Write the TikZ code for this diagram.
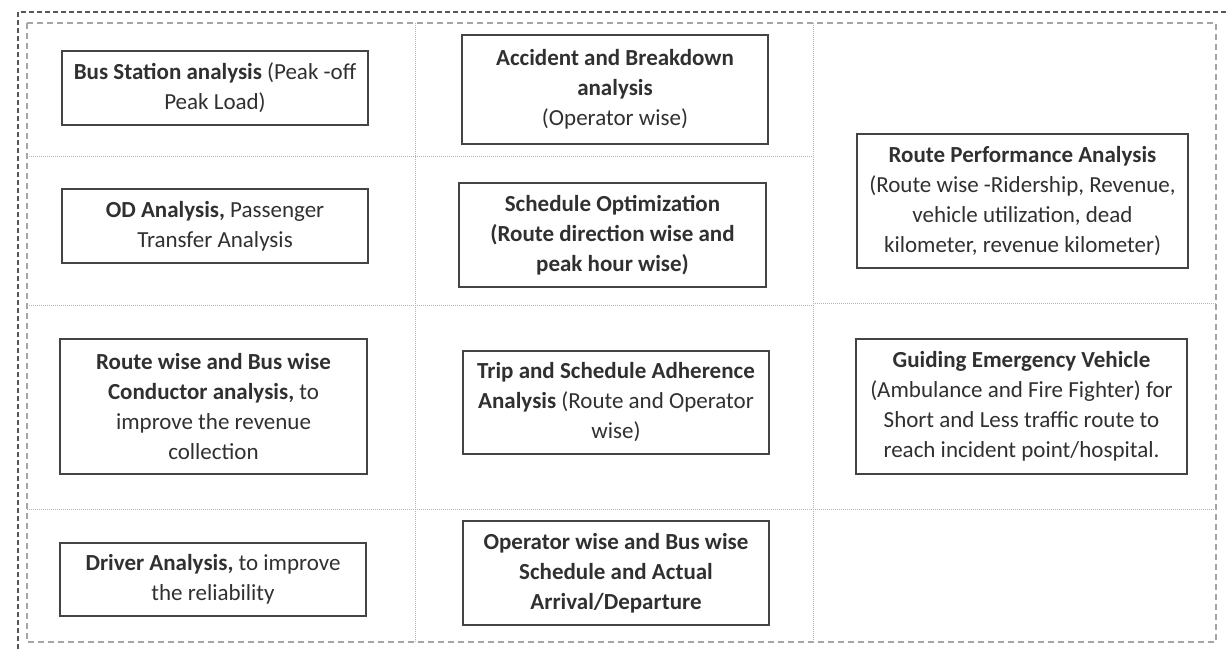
\documentclass[tikz,border=0pt]{standalone}
\usepackage{fontspec}
\setmainfont{Carlito}
\definecolor{ink}{HTML}{303030}
\definecolor{frame}{HTML}{444444}
\definecolor{gridc}{HTML}{B4B4B4}
\begin{document}
\begin{tikzpicture}[x=1pt,y=-1pt,
  card/.style={draw=frame, line width=1.4pt, rectangle, align=center,
    text=ink, font=\fontsize{23}{30}\selectfont, inner sep=0pt},
  outerline/.style={draw=frame!90, line width=1.6pt, dash pattern=on 5pt off 3pt},
  innerline/.style={draw=gray!70, line width=1.1pt, dash pattern=on 6pt off 4pt},
  cellline/.style={draw=gridc, line width=0.8pt, dash pattern=on 1pt off 1pt}]
\useasboundingbox (0,0) rectangle (1227,649);

% outer and inner frames
\draw[outerline] (18,649) -- (18,12) -- (1227,12);
\draw[innerline] (27,23) rectangle (1216,642);

% cell separators
\draw[cellline] (415,23) -- (415,642);
\draw[cellline] (813,23) -- (813,642);
\draw[cellline] (27,156) -- (813,156);
\draw[cellline] (27,305) -- (813,305);
\draw[cellline] (813,303) -- (1216,303);
\draw[cellline] (27,509) -- (1216,509);

% column 1
\node[card, minimum width=306pt, minimum height=74pt] (busstation) at (215,88)
  {\textbf{Bus Station analysis} (Peak -off\\Peak Load)};
\node[card, minimum width=306pt, minimum height=74pt] (od) at (215,226)
  {\textbf{OD Analysis,} Passenger\\Transfer Analysis};
\node[card, minimum width=307pt, minimum height=135pt] (conductor) at (213.5,406.5)
  {\textbf{Route wise and Bus wise}\\\textbf{Conductor analysis,} to\\improve the revenue\\collection};
\node[card, minimum width=306pt, minimum height=73pt] (driver) at (213,579.5)
  {\textbf{Driver Analysis,} to improve\\the reliability};

% column 2
\node[card, minimum width=306pt, minimum height=109pt] (accident) at (615,89.5)
  {\textbf{Accident and Breakdown}\\\textbf{analysis}\\(Operator wise)};
\node[card, minimum width=307pt, minimum height=104pt] (schedopt) at (612.5,235)
  {\textbf{Schedule Optimization}\\\textbf{(Route direction wise and}\\\textbf{peak hour wise)}};
\node[card, minimum width=306pt, minimum height=103pt] (trip) at (616,402.5)
  {\textbf{Trip and Schedule Adherence}\\\textbf{Analysis} (Route and Operator\\wise)};
\node[card, minimum width=306pt, minimum height=104pt] (operator) at (616,573)
  {\textbf{Operator wise and Bus wise}\\\textbf{Schedule and Actual}\\\textbf{Arrival/Departure}};

% column 3
\node[card, minimum width=331pt, minimum height=134pt] (routeperf) at (1022.5,201)
  {\textbf{Route Performance Analysis}\\(Route wise -Ridership, Revenue,\\vehicle utilization, dead\\kilometer, revenue kilometer)};
\node[card, minimum width=331pt, minimum height=135pt] (emergency) at (1021.5,406.5)
  {\textbf{Guiding Emergency Vehicle}\\(Ambulance and Fire Fighter) for\\Short and Less traffic route to\\reach incident point/hospital.};
\end{tikzpicture}
\end{document}
